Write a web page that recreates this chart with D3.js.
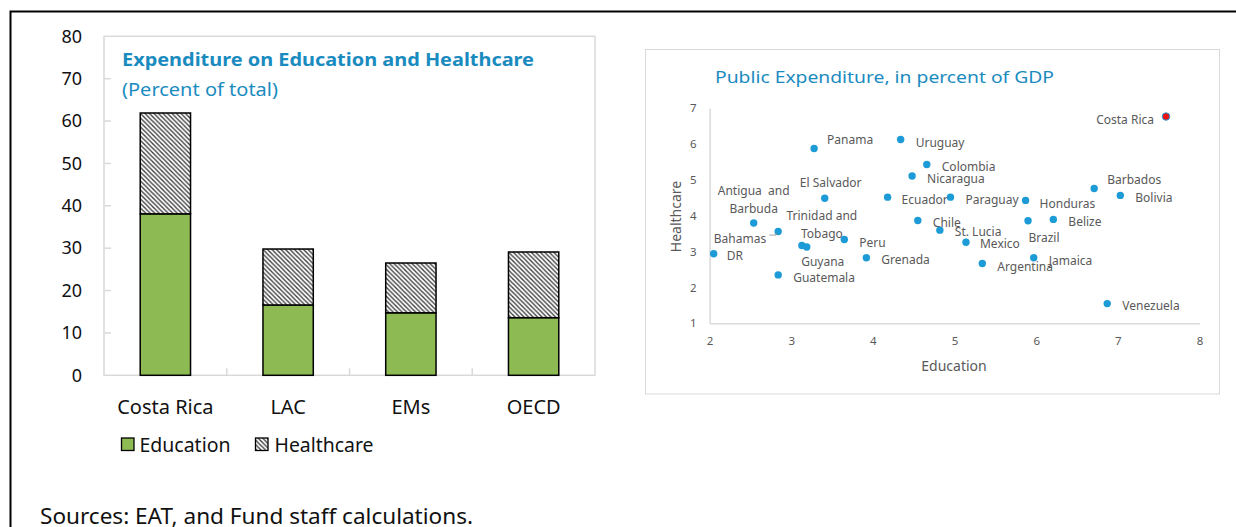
<!DOCTYPE html>
<html>
<head>
<meta charset="utf-8">
<script src="https://cdn.jsdelivr.net/npm/d3@7"></script>
<style>
  html, body { margin: 0; padding: 0; background: #fff; }
  svg { display: block; font-family: "Noto Sans", "Open Sans", sans-serif; }
</style>
</head>
<body>
<svg id="chart" width="1236" height="527"></svg>
<script>
// ---------- Data: left chart (Percent of total) ----------
const categories = ["Costa Rica", "LAC", "EMs", "OECD"];
const education = [38.1, 16.6, 14.75, 13.6];
const healthcare = [23.8, 13.2, 11.75, 15.5];
const barTicks = [0, 10, 20, 30, 40, 50, 60, 70, 80];
const seriesNames = ["Education", "Healthcare"];

// ---------- Data: right chart (Public expenditure, % of GDP) ----------
const countries = ["Costa Rica", "Panama", "Uruguay", "Colombia", "Nicaragua", "El Salvador",
  "Ecuador", "Paraguay", "Honduras", "Barbados", "Bolivia", "Antigua and Barbuda", "Bahamas",
  "Trinidad and Tobago", "Guyana", "Peru", "Chile", "St. Lucia", "Brazil", "Belize", "Mexico",
  "DR", "Grenada", "Guatemala", "Argentina", "Jamaica", "Venezuela"];
const eduGDP = [7.59, 3.28, 4.34, 4.66, 4.48, 3.41, 4.18, 4.95, 5.87, 6.71, 7.03, 2.54, 2.84,
  3.13, 3.19, 3.65, 4.55, 4.82, 5.90, 6.21, 5.14, 2.05, 3.92, 2.84, 5.34, 5.97, 6.87];
const healthGDP = [6.77, 5.88, 6.13, 5.43, 5.11, 4.49, 4.52, 4.52, 4.43, 4.76, 4.57, 3.80, 3.56,
  3.17, 3.13, 3.34, 3.87, 3.60, 3.86, 3.90, 3.26, 2.94, 2.83, 2.35, 2.67, 2.83, 1.55];
const xTicksGDP = [2, 3, 4, 5, 6, 7, 8];
const yTicksGDP = [1, 2, 3, 4, 5, 6, 7];

// ---------- Label layout (offsets in px from each point) ----------
const labelLayout = {
  "Costa Rica": {dx: -12, dy: 3, anchor: "end"},
  "Panama": {dx: 13, dy: -9},
  "Uruguay": {dx: 15, dy: 3},
  "Colombia": {dx: 15, dy: 2},
  "Nicaragua": {dx: 15, dy: 3},
  "El Salvador": {dx: 6, dy: -15, anchor: "middle"},
  "Ecuador": {dx: 14, dy: 3},
  "Paraguay": {dx: 15, dy: 3},
  "Honduras": {dx: 14, dy: 3},
  "Barbados": {dx: 13, dy: -9},
  "Bolivia": {dx: 15, dy: 2},
  "Antigua and Barbuda": {dx: 0, dy: -32, anchor: "middle", lines: ["Antigua  and", "Barbuda"]},
  "Bahamas": {dx: -12, dy: 7, anchor: "end", leader: true},
  "Trinidad and Tobago": {dx: 20, dy: -30, anchor: "middle", lines: ["Trinidad and", "Tobago"]},
  "Guyana": {dx: 16, dy: 15, anchor: "middle"},
  "Peru": {dx: 15, dy: 3},
  "Chile": {dx: 15, dy: 2},
  "St. Lucia": {dx: 15, dy: 2},
  "Brazil": {dx: 16, dy: 17, anchor: "middle"},
  "Belize": {dx: 15, dy: 2},
  "Mexico": {dx: 14, dy: 1},
  "DR": {dx: 13, dy: 2},
  "Grenada": {dx: 15, dy: 2},
  "Guatemala": {dx: 15, dy: 3},
  "Argentina": {dx: 15, dy: 3},
  "Jamaica": {dx: 15, dy: 3},
  "Venezuela": {dx: 15, dy: 2}
};

const BLUE_TITLE = "#1a8bbf";
const DOT = "#1d9bd6";
const GREEN = "#8dba52";
const GRAY_TXT = "#595959";
const AXIS_GRAY = "#d9d9d9";

const svg = d3.select("#chart");

// hatch pattern
const defs = svg.append("defs");
const pat = defs.append("pattern").attr("id", "hatch")
  .attr("patternUnits", "userSpaceOnUse").attr("width", 4.5).attr("height", 4.5);
pat.append("rect").attr("width", 4.5).attr("height", 4.5).attr("fill", "#fff");
pat.append("path").attr("d", "M0,0 L4.5,4.5 M-1,3.5 L1,5.5 M3.5,-1 L5.5,1")
  .attr("stroke", "#3a3a3a").attr("stroke-width", 1.3);

// outer frame
svg.append("path").attr("d", "M10.5,527 L10.5,11.5 L1236,11.5")
  .attr("fill", "none").attr("stroke", "#000").attr("stroke-width", 2);

// ================= LEFT CHART =================
const L = {left: 104, right: 595, top: 36.3, bottom: 375.3};
const x = d3.scaleBand().domain(categories).range([L.left, L.right])
  .paddingInner(0.59).paddingOuter(0.295);
const y = d3.scaleLinear().domain([0, 80]).range([L.bottom, L.top]);

const gL = svg.append("g");
// plot area border
gL.append("rect").attr("x", L.left).attr("y", L.top)
  .attr("width", L.right - L.left).attr("height", L.bottom - L.top)
  .attr("fill", "none").attr("stroke", AXIS_GRAY).attr("stroke-width", 1.5);

// y axis
const yAxis = d3.axisLeft(y).tickValues(barTicks).tickSize(0).tickPadding(22);
const gy = gL.append("g").attr("transform", `translate(${L.left},0)`).call(yAxis);
gy.select(".domain").remove();
gy.selectAll("text").attr("font-size", 18).attr("fill", "#111")
  .attr("font-family", "Noto Sans, sans-serif");
// inner ticks on y
gL.selectAll(".ytk").data(barTicks.filter(d => d > 0 && d < 80)).join("line")
  .attr("x1", L.left).attr("x2", L.left + 7)
  .attr("y1", d => y(d)).attr("y2", d => y(d))
  .attr("stroke", AXIS_GRAY).attr("stroke-width", 1.5);

// x axis category labels
const xAxis = d3.axisBottom(x).tickSize(0).tickPadding(25);
const gx = gL.append("g").attr("transform", `translate(0,${L.bottom})`).call(xAxis);
gx.select(".domain").remove();
gx.selectAll("text").attr("font-size", 20).attr("fill", "#111")
  .attr("font-family", "Noto Sans, sans-serif");
// x ticks at band boundaries (inside, upward)
const bounds = categories.slice(1).map(c => x(c) - x.step() * x.paddingInner() / 2);
gL.selectAll(".xtk").data(bounds).join("line")
  .attr("x1", d => d).attr("x2", d => d)
  .attr("y1", L.bottom).attr("y2", L.bottom - 7)
  .attr("stroke", AXIS_GRAY).attr("stroke-width", 1.5);

// bars
const stackData = categories.map((c, i) => ({cat: c, Education: education[i], Healthcare: healthcare[i]}));
const stack = d3.stack().keys(seriesNames)(stackData);
const fills = {Education: GREEN, Healthcare: "url(#hatch)"};
gL.selectAll(".series").data(stack).join("g")
  .attr("fill", d => fills[d.key])
  .selectAll("rect").data(d => d).join("rect")
  .attr("x", d => x(d.data.cat))
  .attr("width", x.bandwidth())
  .attr("y", d => y(d[1]))
  .attr("height", d => y(d[0]) - y(d[1]))
  .attr("stroke", "#000").attr("stroke-width", 1.5);

// titles
gL.append("text").attr("x", 122).attr("y", 66)
  .attr("font-size", 18.5).attr("font-weight", "bold").attr("fill", BLUE_TITLE)
  .attr("textLength", 412).attr("lengthAdjust", "spacingAndGlyphs")
  .text("Expenditure on Education and Healthcare");
gL.append("text").attr("x", 122).attr("y", 95.5)
  .attr("font-size", 18).attr("fill", BLUE_TITLE)
  .attr("textLength", 156).attr("lengthAdjust", "spacingAndGlyphs")
  .text("(Percent of total)");

// legend
const legX = [121.5, 255.5];
const legTxtX = [139.5, 274.5];
const legLen = [91, 99];
seriesNames.forEach((s, i) => {
  gL.append("rect").attr("x", legX[i]).attr("y", 438).attr("width", 12.5).attr("height", 12.5)
    .attr("fill", fills[s]).attr("stroke", "#000").attr("stroke-width", 1.3);
  gL.append("text").attr("x", legTxtX[i]).attr("y", 451.5)
    .attr("font-size", 19.5).attr("fill", "#111")
    .attr("textLength", legLen[i]).attr("lengthAdjust", "spacingAndGlyphs").text(s);
});

// sources
svg.append("text").attr("x", 40).attr("y", 524)
  .attr("font-size", 21).attr("fill", "#111")
  .attr("textLength", 433).attr("lengthAdjust", "spacingAndGlyphs")
  .text("Sources: EAT, and Fund staff calculations.");

// ================= RIGHT CHART =================
const R = {boxL: 645.5, boxR: 1219.5, boxT: 49.5, boxB: 394,
           left: 709.6, right: 1199.5, top: 108.3, bottom: 323.3};
svg.append("rect").attr("x", R.boxL).attr("y", R.boxT)
  .attr("width", R.boxR - R.boxL).attr("height", R.boxB - R.boxT)
  .attr("fill", "#fff").attr("stroke", AXIS_GRAY).attr("stroke-width", 1);

const sx = d3.scaleLinear().domain([2, 8]).range([R.left, R.right]);
const sy = d3.scaleLinear().domain([1, 7]).range([R.bottom, R.top]);
const gR = svg.append("g");

const gsx = gR.append("g").attr("transform", `translate(0,${R.bottom})`)
  .call(d3.axisBottom(sx).tickValues(xTicksGDP).tickFormat(d3.format("d")).tickSize(0).tickPadding(14));
gsx.select(".domain").attr("stroke", AXIS_GRAY).attr("stroke-width", 1.5);
gsx.selectAll("text").attr("font-size", 11.5).attr("fill", GRAY_TXT)
  .attr("font-family", "Noto Sans, sans-serif");

const gsy = gR.append("g").attr("transform", `translate(${R.left},0)`)
  .call(d3.axisLeft(sy).tickValues(yTicksGDP).tickFormat(d3.format("d")).tickSize(0).tickPadding(13));
gsy.select(".domain").attr("stroke", AXIS_GRAY).attr("stroke-width", 1.5);
gsy.selectAll("text").attr("font-size", 11.5).attr("fill", GRAY_TXT)
  .attr("font-family", "Noto Sans, sans-serif");

// axis titles
gR.append("text").attr("x", 954).attr("y", 371).attr("text-anchor", "middle")
  .attr("font-size", 14).attr("fill", GRAY_TXT).text("Education");
gR.append("text").attr("transform", "translate(676,216.5) rotate(-90)")
  .attr("text-anchor", "middle").attr("dy", "0.35em")
  .attr("font-size", 14).attr("fill", GRAY_TXT).text("Healthcare");

// chart title
gR.append("text").attr("x", 715).attr("y", 82.5)
  .attr("font-size", 17).attr("fill", BLUE_TITLE)
  .attr("textLength", 339).attr("lengthAdjust", "spacingAndGlyphs")
  .text("Public Expenditure, in percent of GDP");

// points
const pts = countries.map((c, i) => ({name: c, ex: eduGDP[i], hy: healthGDP[i]}));
gR.selectAll("circle.pt").data(pts).join("circle").attr("class", "pt")
  .attr("cx", d => sx(d.ex)).attr("cy", d => sy(d.hy)).attr("r", 3.7)
  .attr("fill", d => d.name === "Costa Rica" ? "#ee1111" : DOT)
  .attr("stroke", d => d.name === "Costa Rica" ? DOT : "none")
  .attr("stroke-width", 1);

// labels
pts.forEach(d => {
  const lay = labelLayout[d.name];
  const px = sx(d.ex), py = sy(d.hy);
  const lines = lay.lines || [d.name];
  lines.forEach((ln, k) => {
    gR.append("text")
      .attr("x", px + lay.dx).attr("y", py + lay.dy + k * 18)
      .attr("dy", "0.35em")
      .attr("text-anchor", lay.anchor || "start")
      .attr("font-size", 12).attr("fill", GRAY_TXT)
      .style("white-space", "pre")
      .text(ln);
  });
  if (lay.leader) {
    gR.append("path")
      .attr("d", `M${px - 9},${py + 3.5} L${px - 2},${py + 3.5} L${px - 2},${py + 1}`)
      .attr("fill", "none").attr("stroke", "#8c8c8c").attr("stroke-width", 0.8);
  }
});
</script>
</body>
</html>
